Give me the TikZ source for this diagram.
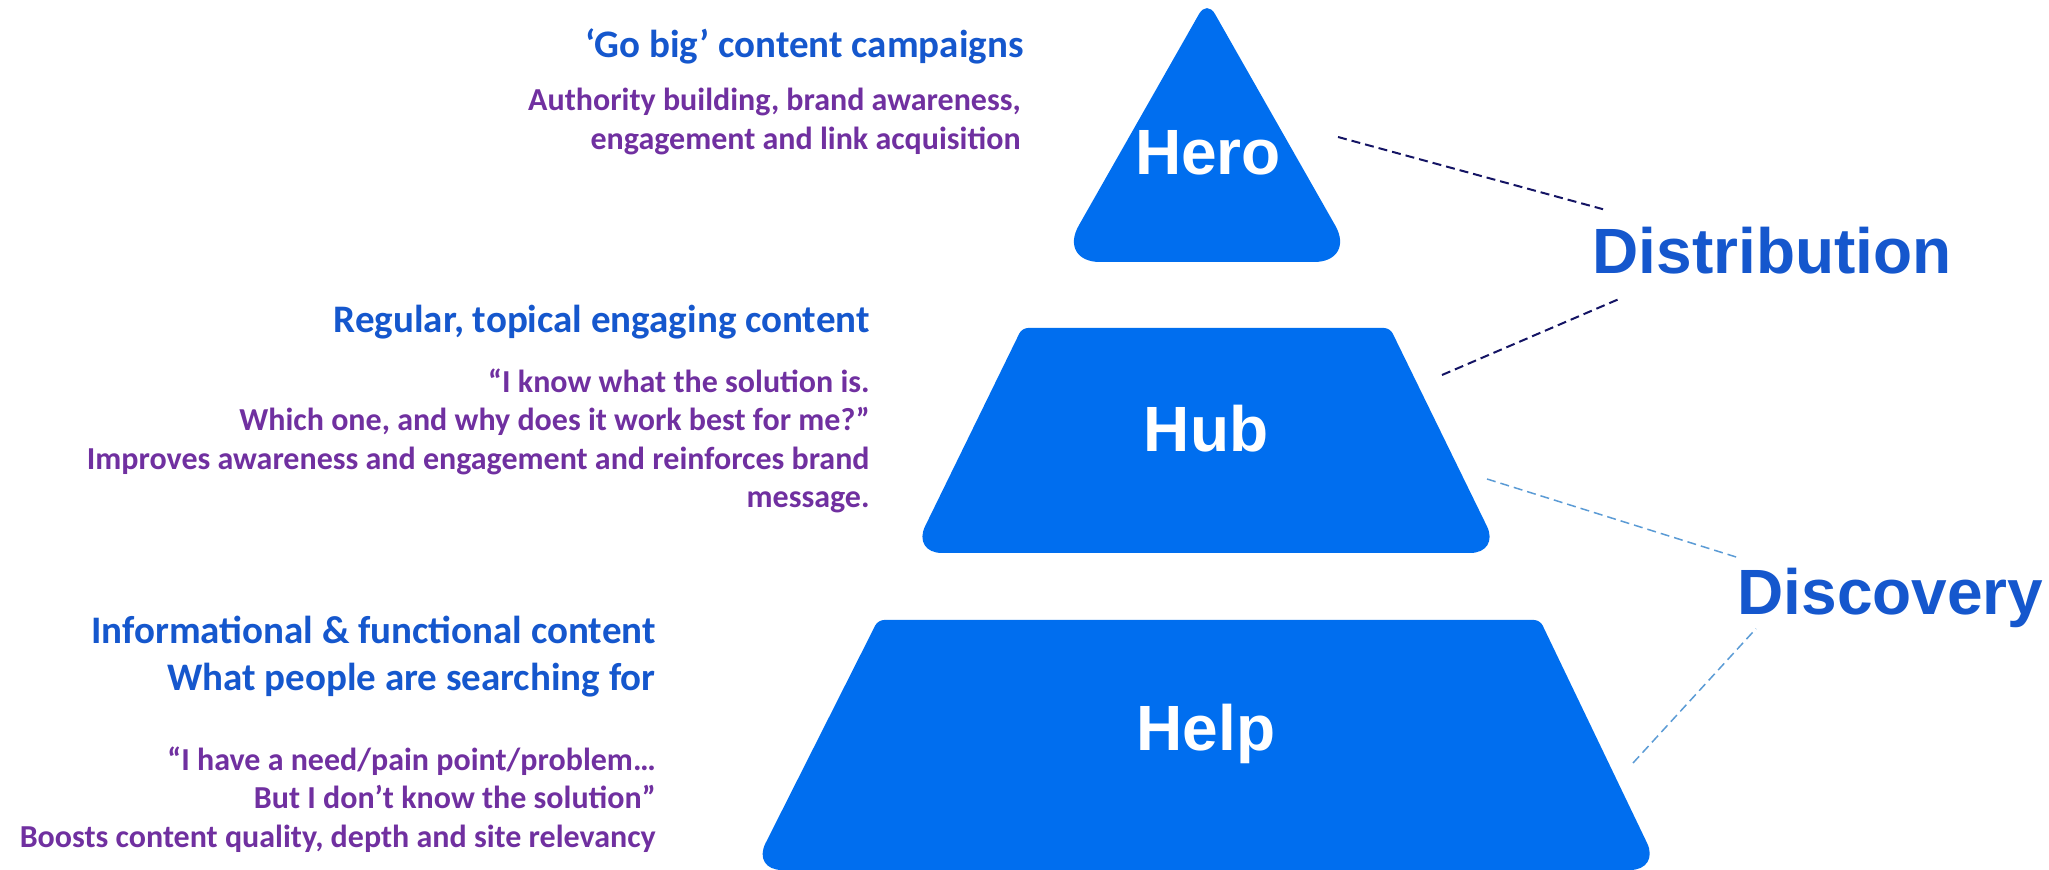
\documentclass[tikz,border=0pt]{standalone}
\usepackage{fontspec}
\setmainfont{Carlito}
\newfontfamily\arialfont{Liberation Sans}
\definecolor{pyramid}{RGB}{0,110,239}
\definecolor{headblue}{RGB}{21,87,205}
\definecolor{notepurple}{RGB}{112,48,160}
\definecolor{distnavy}{RGB}{20,20,100}
\definecolor{discblue}{RGB}{91,155,213}
\begin{document}
\begin{tikzpicture}[x=0.5pt,y=-0.5pt,
		tier/.style={text=white, font=\arialfont\bfseries\fontsize{32}{38}\selectfont, anchor=base, inner sep=0},
		stage/.style={text=headblue, font=\arialfont\bfseries\fontsize{32}{38}\selectfont, anchor=base west, inner sep=0},
		head/.style={text=headblue, font=\bfseries\fontsize{19.5}{23.5}\selectfont, align=right, anchor=north east, inner sep=0},
		note/.style={text=notepurple, font=\bfseries\fontsize{16}{19.25}\selectfont, align=right, anchor=north east, inner sep=0},
		link/.style={dash pattern=on 4.5pt off 2.5pt, line width=1pt}]
		\useasboundingbox (0,0) rectangle (2049,870);
		\fill [pyramid] (1207,262) [rounded corners=21pt] -- (1058,262) [rounded corners=8pt] -- (1207,0) [rounded corners=21pt] -- (1356,262) -- cycle;
		\fill [pyramid] (1206,553) [rounded corners=15pt] -- (912,553) [rounded corners=3pt] -- (1022,328) -- (1390,328) [rounded corners=15pt] -- (1500,553) -- cycle;
		\fill [pyramid] (1206,870) [rounded corners=15pt] -- (752,870) [rounded corners=3pt] -- (878,620) -- (1540,620) [rounded corners=15pt] -- (1660,870) -- cycle;
		\foreach \name/\x/\y/\txt in {hero/1208/175/Hero, hub/1206/452/Hub, help/1206/750/Help}
			\node [tier] (\name) at (\x,\y) {\txt};
		\node [stage] (distribution) at (1592,274) {Distribution};
		\node [stage] (discovery) at (1737,615) {Discovery};

		\node [head] (heroHead) at (1024,28) {‘Go big’ content campaigns};
		\node [note] (heroNote) at (1021,88) {Authority building, brand awareness,\\engagement and link acquisition};
		\node [head] (hubHead) at (870,305) {Regular, topical engaging content};
		\node [note] (hubNote) at (870,368) {“I know what the solution is.\\Which one, and why does it work best for me?”\\Improves awareness and engagement and reinforces brand\\message.};
		\node [head] (helpHead) at (656,616) {Informational \& functional content\\What people are searching for};
		\node [note] (helpNote) at (656,746) {“I have a need/pain point/problem…\\But I don’t know the solution”\\Boosts content quality, depth and site relevancy};

		\coordinate (heroEdge) at (1338,137);
		\coordinate (hubEdgeA) at (1442,375);
		\coordinate (hubEdgeB) at (1487,479);
		\coordinate (helpEdge) at (1633,763);
		\draw [link, distnavy] (heroEdge) -- ([shift={(5.5pt,9pt)}]distribution.north west);
		\draw [link, distnavy] (hubEdgeA) -- ([shift={(13.5pt,-12pt)}]distribution.south west);
		\draw [link, discblue, line width=0.75pt] (hubEdgeB) -- ([shift={(1.5pt,5pt)}]discovery.north west);
		\draw [link, discblue, line width=0.75pt] (helpEdge) -- ([shift={(9.5pt,0pt)}]discovery.south west);
	\end{tikzpicture}
\end{document}
